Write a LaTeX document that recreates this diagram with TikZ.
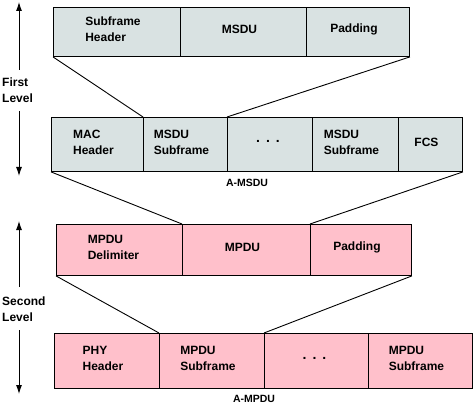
\documentclass[tikz,border=0pt]{standalone}
\usepackage{fontspec}
\setmainfont{Liberation Sans}
\usetikzlibrary{arrows.meta}
\definecolor{grayc}{HTML}{D9E2E2}
\definecolor{pinkc}{HTML}{FFC0CB}
\begin{document}
\begin{tikzpicture}[x=1pt,y=-1pt,
  cell/.style={draw, line width=0.9pt, inner sep=0pt, anchor=north west},
  gcell/.style={cell, fill=grayc},
  pcell/.style={cell, fill=pinkc},
  txt/.style={font=\fontsize{12}{16}\selectfont\bfseries, align=left, inner sep=0pt},
  dotstxt/.style={font=\fontsize{14}{16}\selectfont\bfseries, inner sep=0pt},
  captxt/.style={font=\fontsize{10.5}{12}\selectfont\bfseries, inner sep=0pt},
  conn/.style={line width=0.9pt},
  lvl/.style={line width=0.9pt, -{Latex[length=9pt,width=6pt]}}
]
\useasboundingbox (0,0) rectangle (474,409);
% row 1
\node[gcell, minimum width=127pt, minimum height=49pt] (a1) at (53,7) {};
\node[gcell, minimum width=126pt, minimum height=49pt] (a2) at (180,7) {};
\node[gcell, minimum width=103pt, minimum height=49pt] (a3) at (306,7) {};
% row 2
\node[gcell, minimum width=92pt, minimum height=54pt] (b1) at (51,117) {};
\node[gcell, minimum width=84pt, minimum height=54pt] (b2) at (143,117) {};
\node[gcell, minimum width=85pt, minimum height=54pt] (b3) at (227,117) {};
\node[gcell, minimum width=86pt, minimum height=54pt] (b4) at (312,117) {};
\node[gcell, minimum width=64pt, minimum height=54pt] (b5) at (398,117) {};
% row 3
\node[pcell, minimum width=126pt, minimum height=51pt] (c1) at (56,224) {};
\node[pcell, minimum width=128pt, minimum height=51pt] (c2) at (182,224) {};
\node[pcell, minimum width=101pt, minimum height=51pt] (c3) at (310,224) {};
% row 4
\node[pcell, minimum width=105pt, minimum height=55pt] (d1) at (54,333) {};
\node[pcell, minimum width=105pt, minimum height=55pt] (d2) at (159,333) {};
\node[pcell, minimum width=104pt, minimum height=55pt] (d3) at (264,333) {};
\node[pcell, minimum width=104pt, minimum height=55pt] (d4) at (368,333) {};
% texts
\node[txt] (ta1) at ([shift={(-4,-2.5)}]a1.center) {Subframe\\Header};
\node[txt] (ta2) at ([shift={(-4,-2.5)}]a2.center) {MSDU};
\node[txt] (ta3) at ([shift={(-4,-2.5)}]a3.center) {Padding};
\node[txt] (tb1) at ([shift={(-4,-2.5)}]b1.center) {MAC\\Header};
\node[txt] (tb2) at ([shift={(-4,-2.5)}]b2.center) {MSDU\\Subframe};
\node[dotstxt] (tb3) at ([shift={(-2,-2.5)}]b3.center) {.\hspace{6pt}.\hspace{6pt}.};
\node[txt] (tb4) at ([shift={(-4,-2.5)}]b4.center) {MSDU\\Subframe};
\node[txt] (tb5) at ([shift={(-4,-2.5)}]b5.center) {FCS};
\node[txt] (tc1) at ([shift={(-6,-2.5)}]c1.center) {MPDU\\Delimiter};
\node[txt] (tc2) at ([shift={(-4,-2.5)}]c2.center) {MPDU};
\node[txt] (tc3) at ([shift={(-4,-2.5)}]c3.center) {Padding};
\node[txt] (td1) at ([shift={(-4,-2.5)}]d1.center) {PHY\\Header};
\node[txt] (td2) at ([shift={(-4,-2.5)}]d2.center) {MPDU\\Subframe};
\node[dotstxt] (td3) at ([shift={(-2,-2.5)}]d3.center) {.\hspace{6pt}.\hspace{6pt}.};
\node[txt] (td4) at ([shift={(-4,-2.5)}]d4.center) {MPDU\\Subframe};
% captions
\node[captxt] (amsdu) at (247,183) {A-MSDU};
\node[captxt] (ampdu) at (254,399) {A-MPDU};
% connectors
\draw[conn] (a1.south west) -- (b2.north west);
\draw[conn] (a3.south east) -- (b3.north west);
\draw[conn] (b1.south west) -- (c2.north west);
\draw[conn] (b5.south east) -- (c3.north west);
\draw[conn] (c1.south west) -- (d2.north west);
\draw[conn] (c3.south east) -- (d3.north west);
% levels
\node[txt, anchor=west] (lv1) at (2,90) {First\\Level};
\node[txt, anchor=west] (lv2) at (2,309) {Second\\Level};
\coordinate (u1s) at (19,70);  \coordinate (u1e) at (19,2);
\coordinate (d1s) at (19,111); \coordinate (d1e) at (19,176);
\coordinate (u2s) at (19,287); \coordinate (u2e) at (19,221);
\coordinate (d2s) at (19,330); \coordinate (d2e) at (19,394);
\draw[lvl] (u1s) -- (u1e);
\draw[lvl] (d1s) -- (d1e);
\draw[lvl] (u2s) -- (u2e);
\draw[lvl] (d2s) -- (d2e);
\end{tikzpicture}
\end{document}
